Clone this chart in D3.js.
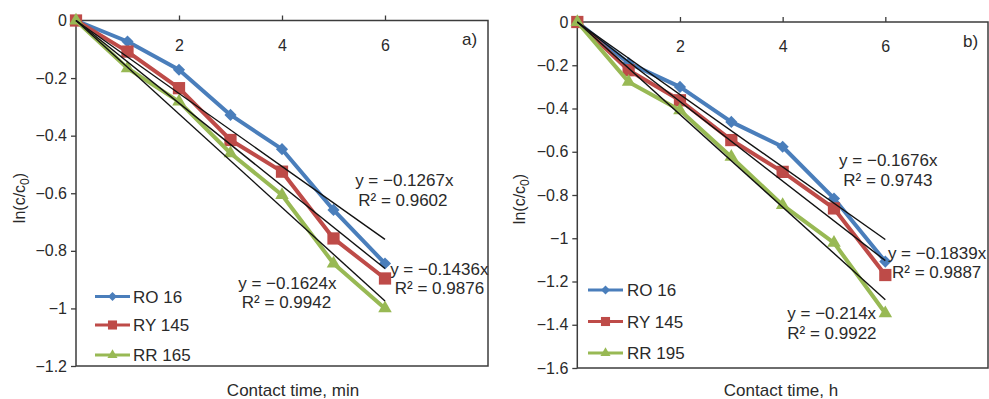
<!DOCTYPE html>
<html>
<head>
<meta charset="utf-8">
<script src="https://cdn.jsdelivr.net/npm/d3@7"></script>
<style>
  html, body { margin: 0; padding: 0; background: #fff; }
  svg { display: block; font-family: "Liberation Sans", Arial, sans-serif; }
</style>
</head>
<body>
<svg id="chart" width="989" height="399"></svg>
<script>
// ---------------- data ----------------
const time = [0, 1, 2, 3, 4, 5, 6];
const xTickValues = [2, 4, 6];
const xTickLabels = ["2", "4", "6"];

// panel a) contact time in minutes
const namesA = ["RO 16", "RY 145", "RR 165"];
const ro16A  = [0, -0.073, -0.171, -0.328, -0.447, -0.658, -0.844];
const ry145A = [0, -0.108, -0.235, -0.415, -0.525, -0.757, -0.896];
const rr165A = [0, -0.166, -0.282, -0.461, -0.606, -0.844, -1.000];
const slopesA = [-0.1267, -0.1436, -0.1624];
const r2A = ["0.9602", "0.9876", "0.9942"];
const yTicksA = [0, -0.2, -0.4, -0.6, -0.8, -1, -1.2];
const yTickLabelsA = ["0", "\u22120.2", "\u22120.4", "\u22120.6", "\u22120.8", "\u22121", "\u22121.2"];

// panel b) contact time in hours
const namesB = ["RO 16", "RY 145", "RR 195"];
const ro16B  = [0, -0.190, -0.300, -0.462, -0.577, -0.816, -1.108];
const ry145B = [0, -0.223, -0.362, -0.546, -0.693, -0.862, -1.170];
const rr195B = [0, -0.277, -0.408, -0.624, -0.847, -1.021, -1.347];
const slopesB = [-0.1676, -0.1839, -0.214];
const r2B = ["0.9743", "0.9887", "0.9922"];
const yTicksB = [0, -0.2, -0.4, -0.6, -0.8, -1, -1.2, -1.4, -1.6];
const yTickLabelsB = ["0", "\u22120.2", "\u22120.4", "\u22120.6", "\u22120.8", "\u22121", "\u22121.2", "\u22121.4", "\u22121.6"];

const colors = ["#4a7ebb", "#be4b48", "#98b954"];
const symbols = ["diamond", "square", "triangle"];

// ---------------- layout ----------------
const panels = [
  {
    left: 76, right: 488, top: 20.5, bottom: 366, xMax: 8, yMin: -1.2,
    yTicks: yTicksA, yTickLabels: yTickLabelsA,
    names: namesA, series: [ro16A, ry145A, rr165A], slopes: slopesA, r2: r2A,
    // annotation anchors in data units: [x, y] for equation, [x, y] for R²
    eqPos: [[5.42, -0.555], [6.10, -0.861], [3.15, -0.913]],
    r2Pos: [[5.48, -0.624], [6.19, -0.930], [3.22, -0.979]],
    legend: { x1: 95, x2: 130, tx: 133, ys: [296.5, 325, 355] },
    xTitle: "Contact time, min", xTitleX: 293, xTitleY: 390,
    yTitleX: 19, yTitleY: 198,
    tag: "a)", tagX: 462, tagY: 39
  },
  {
    left: 577.3, right: 988, top: 22, bottom: 368, xMax: 8, yMin: -1.6,
    yTicks: yTicksB, yTickLabels: yTickLabelsB,
    names: namesB, series: [ro16B, ry145B, rr195B], slopes: slopesB, r2: r2B,
    eqPos: [[5.10, -0.639], [6.05, -1.068], [4.09, -1.346]],
    r2Pos: [[5.18, -0.731], [6.13, -1.156], [4.09, -1.438]],
    legend: { x1: 588, x2: 623, tx: 627, ys: [290, 321.5, 353] },
    xTitle: "Contact time, h", xTitleX: 781, xTitleY: 390,
    yTitleX: 519, yTitleY: 199,
    tag: "b)", tagX: 963, tagY: 41
  }
];

const svg = d3.select("#chart");
const textColor = "#2a2a2a";
const axisColor = "#3c3c3c";

function symbolPath(kind, scale) {
  if (kind === "diamond") return d3.symbol(d3.symbolSquare, 74 * scale)();
  if (kind === "square") return d3.symbol(d3.symbolSquare, 150 * scale)();
  return d3.symbol(d3.symbolTriangle, 80 * scale)();
}
function symbolRot(kind) { return kind === "diamond" ? 45 : 0; }

panels.forEach(p => {
  const x = d3.scaleLinear().domain([0, p.xMax]).range([p.left, p.right]);
  const y = d3.scaleLinear().domain([0, p.yMin]).range([p.top, p.bottom]);
  const g = svg.append("g");

  // frame
  g.append("rect")
    .attr("x", p.left).attr("y", p.top)
    .attr("width", p.right - p.left).attr("height", p.bottom - p.top)
    .attr("fill", "none").attr("stroke", axisColor).attr("stroke-width", 1.5);

  // y axis
  const yAxis = g.append("g").attr("transform", `translate(${p.left},0)`)
    .call(d3.axisLeft(y).tickValues(p.yTicks).tickSize(5).tickPadding(4)
      .tickFormat((d, i) => p.yTickLabels[i]));
  yAxis.select(".domain").remove();
  yAxis.selectAll("line").attr("stroke", axisColor).attr("stroke-width", 1.3);
  yAxis.selectAll("text").attr("fill", textColor).style("font-size", "16px")
    .style("font-family", "Liberation Sans, Arial, sans-serif");

  // x axis (on top, labels inside)
  const xAxis = g.append("g").attr("transform", `translate(0,${p.top})`)
    .call(d3.axisTop(x).tickValues(xTickValues).tickSize(5)
      .tickFormat((d, i) => xTickLabels[i]));
  xAxis.select(".domain").remove();
  xAxis.selectAll("line").attr("stroke", axisColor).attr("stroke-width", 1.3);
  xAxis.selectAll("text").attr("fill", textColor).style("font-size", "16px")
    .style("font-family", "Liberation Sans, Arial, sans-serif")
    .attr("y", 19).attr("dy", "0.71em");

  // series
  const line = d3.line().x((d, i) => x(time[i])).y(d => y(d));
  p.series.forEach((s, k) => {
    g.append("path").datum(s).attr("d", line)
      .attr("fill", "none").attr("stroke", colors[k]).attr("stroke-width", 4)
      .attr("stroke-linejoin", "round").attr("stroke-linecap", "round");
    g.selectAll(null).data(s).enter().append("path")
      .attr("d", symbolPath(symbols[k], 1))
      .attr("transform", (d, i) => `translate(${x(time[i])},${y(d)}) rotate(${symbolRot(symbols[k])})`)
      .attr("fill", colors[k]);
  });

  // trend lines
  p.slopes.forEach(m => {
    g.append("line")
      .attr("x1", x(0)).attr("y1", y(0))
      .attr("x2", x(time[time.length - 1])).attr("y2", y(m * time[time.length - 1]))
      .attr("stroke", "#111").attr("stroke-width", 1.4);
  });

  // annotations
  p.slopes.forEach((m, k) => {
    g.append("text").attr("x", x(p.eqPos[k][0])).attr("y", y(p.eqPos[k][1]))
      .attr("dy", "0.36em").attr("fill", textColor).style("font-size", "17px")
      .text(`y = \u2212${Math.abs(m)}x`);
    g.append("text").attr("x", x(p.r2Pos[k][0])).attr("y", y(p.r2Pos[k][1]))
      .attr("dy", "0.36em").attr("fill", textColor).style("font-size", "17px")
      .text(`R\u00B2 = ${p.r2[k]}`);
  });

  // legend
  p.names.forEach((n, k) => {
    const ly = p.legend.ys[k];
    g.append("line").attr("x1", p.legend.x1).attr("x2", p.legend.x2)
      .attr("y1", ly).attr("y2", ly).attr("stroke", colors[k]).attr("stroke-width", 3.2);
    g.append("path").attr("d", symbolPath(symbols[k], 0.55))
      .attr("transform", `translate(${(p.legend.x1 + p.legend.x2) / 2},${ly}) rotate(${symbolRot(symbols[k])})`)
      .attr("fill", colors[k]);
    g.append("text").attr("x", p.legend.tx).attr("y", ly).attr("dy", "0.36em")
      .attr("fill", textColor).style("font-size", "17px").text(n);
  });

  // axis titles
  g.append("text").attr("x", p.xTitleX).attr("y", p.xTitleY).attr("dy", "0.36em")
    .attr("text-anchor", "middle").attr("fill", textColor).style("font-size", "17px")
    .text(p.xTitle);
  const yt = g.append("text")
    .attr("transform", `translate(${p.yTitleX},${p.yTitleY}) rotate(-90)`)
    .attr("text-anchor", "middle").attr("dy", "0.36em")
    .attr("fill", textColor).style("font-size", "16px");
  yt.append("tspan").text("ln(c/c");
  yt.append("tspan").attr("dy", 4).style("font-size", "12px").text("0");
  yt.append("tspan").attr("dy", -4).text(")");

  // panel tag
  g.append("text").attr("x", p.tagX).attr("y", p.tagY).attr("dy", "0.36em")
    .attr("fill", textColor).style("font-size", "17px").text(p.tag);
});
</script>
</body>
</html>
